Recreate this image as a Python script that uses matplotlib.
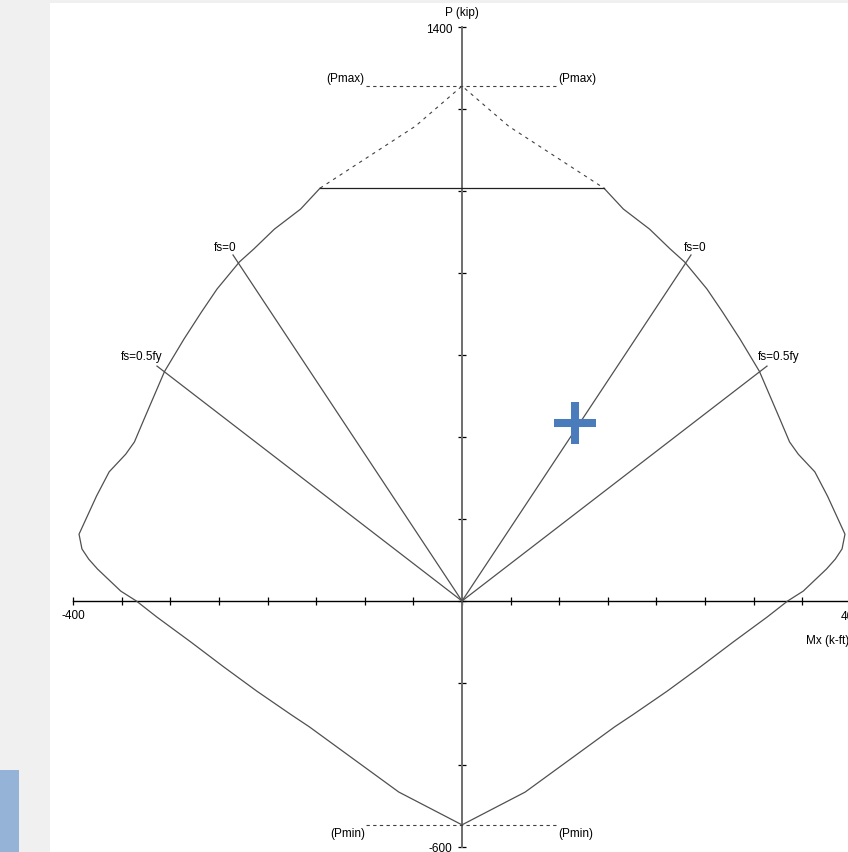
import matplotlib
matplotlib.use("Agg")
import matplotlib.pyplot as plt
from matplotlib.patches import Rectangle
from matplotlib.ticker import FixedLocator, FixedFormatter

plt.rcParams['font.family'] = ['Liberation Sans', 'DejaVu Sans']

# ---- data (Mx in k-ft, P in kip) ----
# solid envelope, left cap end -> down around Pmin -> right cap end
curve_M = [-146, -166, -193, -214, -229, -252, -268, -286, -306, -327, -337, -346, -363, -376, -394,
           -391, -384, -375, -351, -335, -314, -279, -245, -211, -176, -157, -109, -65, 0,
           65, 109, 157, 176, 211, 245, 279, 314, 335, 351, 375, 384, 391,
           394, 376, 363, 346, 337, 327, 306, 286, 268, 252, 229, 214, 193, 166, 146]
curve_P = [1007, 956, 907, 859, 827, 761, 705, 639, 560, 444, 388, 358, 315, 256, 163,
           127, 102, 78, 24, 0, -39, -100, -161, -220, -277, -307, -390, -466, -546,
           -466, -390, -307, -277, -220, -161, -100, -39, 0, 24, 78, 102, 127,
           163, 256, 315, 358, 388, 444, 560, 639, 705, 761, 827, 859, 907, 956, 1007]
# flat cap
cap_M = [-146, 146]
cap_P = [1007, 1007]
# dashed region up to Pmax
dash_M = [-146, -48, 0, 48, 146]
dash_P = [1007, 1158, 1256, 1158, 1007]
Pmax = 1256
Pmin = -546
ref_M = [-99, 99]
# strain lines from origin
fs0_M = [-235.6, 235.6]
fs0_P = [844, 844]
fs05_M = [-313.8, 313.8]
fs05_P = [573, 573]
# load point
load_M = [116.3]
load_P = [434]

x_ticks = list(range(-400, 401, 50))
y_ticks = list(range(-600, 1401, 200))

# ---- figure ----
W, H = 848, 853
fig = plt.figure(figsize=(W / 100, H / 100), dpi=100, facecolor='#f0f0f0')
fig.patches.append(Rectangle((50 / W, 0), 1, (H - 4) / H, transform=fig.transFigure,
                             facecolor='white', edgecolor='none', zorder=-10))
fig.patches.append(Rectangle((0, 0), 19 / W, 82 / H, transform=fig.transFigure,
                             facecolor='#95b3d7', edgecolor='none', zorder=-10))

ax = fig.add_axes([0, 0, 1, 1])
ax.set_facecolor('none')
ax.patch.set_visible(False)
sx, sy = 0.972, 0.41  # px per unit
x0, y0 = 462, 602
ax.set_xlim((0 - x0) / sx, (W - x0) / sx)
ax.set_ylim((y0 - H) / sy, y0 / sy)

for s in ['top', 'right']:
    ax.spines[s].set_visible(False)
ax.spines['bottom'].set_position(('data', 0))
ax.spines['left'].set_position(('data', 0))
ax.spines['bottom'].set_bounds(-400, 450)
ax.spines['left'].set_bounds(-600, 1400)
ax.spines['bottom'].set_color('black')
ax.spines['bottom'].set_linewidth(1.0)
ax.spines['left'].set_color('#6e6e6e')
ax.spines['left'].set_linewidth(1.4)

xt_lab = ['-400' if t == -400 else ('400' if t == 400 else '') for t in x_ticks]
yt_lab = ['1400' if t == 1400 else ('-600' if t == -600 else '') for t in y_ticks]
ax.xaxis.set_major_locator(FixedLocator(x_ticks))
ax.xaxis.set_major_formatter(FixedFormatter(xt_lab))
ax.yaxis.set_major_locator(FixedLocator(y_ticks))
ax.yaxis.set_major_formatter(FixedFormatter(yt_lab))
ax.tick_params(axis='both', direction='inout', length=6, width=0.9, color='black',
               labelsize=8.5, pad=3)
ax.tick_params(axis='y', pad=4)

lc = '#505050'
ax.plot(curve_M, curve_P, color=lc, lw=0.9, zorder=3)
ax.plot(cap_M, cap_P, color='#202020', lw=0.9, zorder=3)
ax.plot(dash_M, dash_P, color='#404040', lw=0.8, ls=(0, (3, 4)), zorder=3)
ax.plot(ref_M, [Pmax, Pmax], color='#404040', lw=0.8, ls=(0, (3, 3)), zorder=3)
ax.plot(ref_M, [Pmin, Pmin], color='#404040', lw=0.8, ls=(0, (3, 3)), zorder=3)

for m, p in zip(fs0_M, fs0_P):
    ax.plot([0, m], [0, p], color=lc, lw=0.9, zorder=3)
for m, p in zip(fs05_M, fs05_P):
    ax.plot([0, m], [0, p], color=lc, lw=0.9, zorder=3)

fs_txt = dict(fontsize=8.5, va='center', color='black')
ax.text(fs0_M[0] + 4, fs0_P[1] + 19, 'fs=0', ha='right', **fs_txt)
ax.text(fs0_M[1] - 7, fs0_P[1] + 19, 'fs=0', ha='left', **fs_txt)
ax.text(fs05_M[0] + 6, fs05_P[0] + 25, 'fs=0.5fy', ha='right', **fs_txt)
ax.text(fs05_M[1] - 9, fs05_P[1] + 25, 'fs=0.5fy', ha='left', **fs_txt)

ax.text(ref_M[0] - 1, Pmax + 20, '(Pmax)', ha='right', **fs_txt)
ax.text(ref_M[1], Pmax + 20, '(Pmax)', ha='left', **fs_txt)
ax.text(ref_M[0] - 1, Pmin - 21, '(Pmin)', ha='right', **fs_txt)
ax.text(ref_M[1], Pmin - 21, '(Pmin)', ha='left', **fs_txt)

ax.text(0, 1436, 'P (kip)', ha='center', **fs_txt)
ax.text(400, -37, '400', ha='center', **fs_txt)
ax.text(398.5, -95, 'Mx (k-ft)', ha='right', **fs_txt)

ax.plot(load_M, load_P, marker='+', markersize=30, markeredgewidth=5.8,
        color='#4a7bbb', ls='none', zorder=5)

fig.savefig('out.png', dpi=100, facecolor=fig.get_facecolor())
